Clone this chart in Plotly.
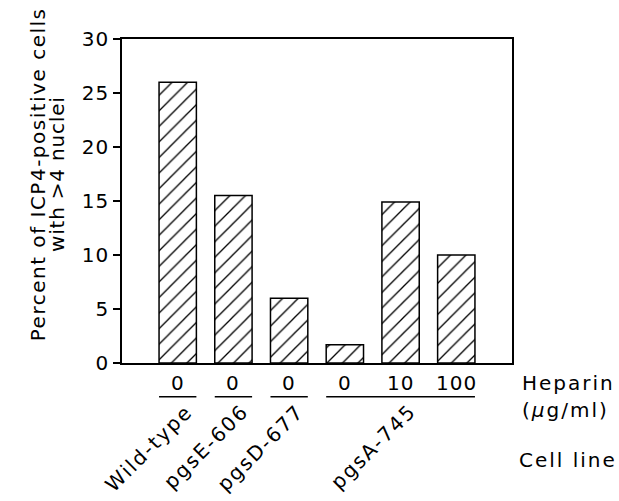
import plotly.graph_objects as go

# ---- data ----
heparin_doses = ["0", "0", "0", "0", "10", "100"]
percent_values = [26.0, 15.5, 6.0, 1.7, 14.9, 10.0]
cell_lines = ["Wild-type", "pgsE-606", "pgsD-677", "pgsA-745"]
cell_line_bars = [[0], [1], [2], [3, 4, 5]]
y_ticks = [0, 5, 10, 15, 20, 25, 30]
y_title_lines = ["Percent of ICP4-positive cells", "with &gt;4 nuclei"]

FONT = "DejaVu Sans"
FS = 20
BAR_W = 0.67
x_pos = list(range(len(percent_values)))


def sp(t, ls=2):
    return f'<span style="letter-spacing:{ls}px">{t}</span>'


TF = dict(family=FONT, size=FS, color="black")

fig = go.Figure()
fig.add_trace(go.Bar(
    x=x_pos, y=percent_values, width=BAR_W,
    marker=dict(color="white",
                line=dict(color="black", width=1.5),
                pattern=dict(shape="/", fgcolor="black", bgcolor="white", fgopacity=1,
                             size=11, solidity=0.12, fillmode="replace")),
    showlegend=False, hoverinfo="skip",
))

annotations = []
shapes = []
# heparin dose labels
for i, d in zip(x_pos, heparin_doses):
    annotations.append(dict(x=i, y=-0.062, xref="x", yref="paper", text=sp(d, 1),
                            showarrow=False, xanchor="center", yanchor="middle", font=TF))
# underlines and cell line labels
for name, bars in zip(cell_lines, cell_line_bars):
    x0 = min(bars) - BAR_W / 2
    x1 = max(bars) + BAR_W / 2
    shapes.append(dict(type="line", xref="x", yref="paper", x0=x0, x1=x1,
                       y0=-0.104, y1=-0.104, line=dict(color="black", width=1.5)))
    xc = sum(bars) / len(bars)
    annotations.append(dict(x=xc + 0.40, y=-0.103, xref="x", yref="paper", text=sp(name, 2),
                            textangle=-45, showarrow=False, xanchor="right", yanchor="top",
                            font=TF))

annotations += [
    dict(x=1.02, y=-0.062, xref="paper", yref="paper", text=sp("Heparin"), showarrow=False,
         xanchor="left", yanchor="middle", align="left", width=100, font=TF),
    dict(x=1.02, y=-0.145, xref="paper", yref="paper", text=sp("(<i>μ</i>g/ml)"),
         showarrow=False, xanchor="left", yanchor="middle", align="left", width=100, font=TF),
    dict(x=1.013, y=-0.30, xref="paper", yref="paper", text=sp("Cell line"), showarrow=False,
         xanchor="left", yanchor="middle", align="left", width=100, font=TF),
    dict(x=-0.215, y=0.583, xref="paper", yref="paper", text=sp(y_title_lines[0], 1.5),
         textangle=-90, showarrow=False, xanchor="center", yanchor="middle", font=TF),
    dict(x=-0.167, y=0.583, xref="paper", yref="paper", text=sp(y_title_lines[1], 0.8),
         textangle=-90, showarrow=False, xanchor="center", yanchor="middle", font=TF),
]

fig.update_layout(
    width=619, height=501,
    margin=dict(l=122, r=107, t=39, b=138, pad=0),
    paper_bgcolor="white", plot_bgcolor="white",
    xaxis=dict(range=[-1, 6], showticklabels=False, ticks="", showgrid=False,
               zeroline=False, showline=True, mirror=True, linecolor="black", linewidth=1.5),
    yaxis=dict(range=[0, 30], tickvals=y_ticks, ticktext=[sp(str(v), 1) for v in y_ticks],
               ticks="outside", ticklen=7, tickwidth=1.5,
               tickcolor="black", showgrid=False, zeroline=False, showline=True, mirror=True,
               linecolor="black", linewidth=1.5, tickfont=TF),
    yaxis2=dict(range=[0, 30], overlaying="y", side="right", tickvals=y_ticks,
                ticks="inside", ticklen=9, tickwidth=1.5, tickcolor="black",
                showticklabels=False, showgrid=False, zeroline=False, showline=False),
    annotations=annotations, shapes=shapes,
)

# remove the page's default 8px body margin so the figure fills the window exactly
fig.write_html("out.html", config={"displayModeBar": False},
               post_script="document.body.style.margin='0';document.body.style.overflow='hidden';")
